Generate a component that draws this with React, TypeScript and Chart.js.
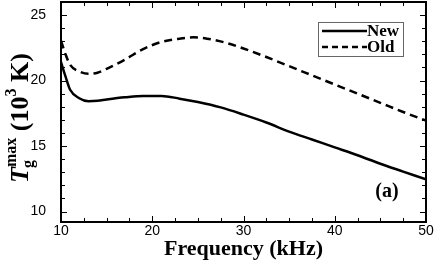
import React, { useEffect, useRef } from "react";
import { Chart, registerables } from "chart.js";

Chart.register(...registerables);

const freqNew = [10, 10.5, 11, 12, 13, 14, 15, 17, 19, 21, 23, 25, 27.5, 30, 32.5, 35, 37.5, 40, 42.5, 45, 47.5, 50];
const tgNew = [21.4, 20.3, 19.3, 18.65, 18.42, 18.45, 18.55, 18.72, 18.83, 18.83, 18.62, 18.36, 17.95, 17.4, 16.8, 16.1, 15.5, 14.9, 14.3, 13.65, 13.05, 12.45];

const freqOld = [10, 10.5, 11, 12, 13, 14, 15, 17, 19, 21, 23, 24.5, 26, 28, 30, 32.5, 35, 37.5, 40, 42.5, 45, 47.5, 50];
const tgOld = [23.05, 22.0, 21.2, 20.7, 20.52, 20.6, 20.9, 21.6, 22.4, 22.95, 23.2, 23.3, 23.2, 22.9, 22.45, 21.8, 21.1, 20.4, 19.7, 19.0, 18.3, 17.6, 16.95];

const seriesNames = ["New", "Old"];
const xTicks = [10, 20, 30, 40, 50];
const yTicks = [10, 15, 20, 25];
const xTitle = "Frequency (kHz)";
const panelLabel = "(a)";

const SERIF = '"Liberation Serif", "Times New Roman", serif';
const SANS = '"Liberation Sans", Arial, sans-serif';

const framePlugin = {
  id: "frame",
  afterDraw(chart: any) {
    const { ctx, chartArea: a, scales } = chart;
    const xs = scales.x;
    const ys = scales.y;
    ctx.save();
    ctx.strokeStyle = "#000";
    ctx.lineWidth = 1;
    ctx.beginPath();
    for (let v = 10; v <= 50.001; v += 2.5) {
      const px = Math.round(xs.getPixelForValue(v)) + 0.5;
      const major = Math.abs(v / 10 - Math.round(v / 10)) < 1e-6;
      const len = major ? 6 : 4;
      ctx.moveTo(px, a.bottom);
      ctx.lineTo(px, a.bottom - len);
      ctx.moveTo(px, a.top);
      ctx.lineTo(px, a.top + len);
    }
    for (let v = 10; v <= 26; v += 1) {
      const py = Math.round(ys.getPixelForValue(v)) + 0.5;
      const major = v % 5 === 0;
      const len = major ? 6 : 4;
      ctx.moveTo(a.left, py);
      ctx.lineTo(a.left + len, py);
      ctx.moveTo(a.right, py);
      ctx.lineTo(a.right - len, py);
    }
    ctx.stroke();
    ctx.lineWidth = 2;
    ctx.strokeRect(a.left, a.top, a.right - a.left, a.bottom - a.top);

    // legend
    const lx = 318.5, ly = 22.5, lw = 85, lh = 34;
    ctx.fillStyle = "#fff";
    ctx.fillRect(lx, ly, lw, lh);
    ctx.lineWidth = 1;
    ctx.strokeStyle = "#666";
    ctx.strokeRect(lx, ly, lw, lh);
    ctx.strokeStyle = "#000";
    ctx.lineWidth = 2.5;
    const rows = [31, 47];
    rows.forEach((ry, i) => {
      ctx.setLineDash(i === 0 ? [] : [6, 4]);
      ctx.beginPath();
      ctx.moveTo(322, ry);
      ctx.lineTo(367, ry);
      ctx.stroke();
    });
    ctx.setLineDash([]);
    ctx.fillStyle = "#000";
    ctx.font = "bold 17px " + SERIF;
    ctx.textBaseline = "middle";
    ctx.textAlign = "left";
    rows.forEach((ry, i) => ctx.fillText(seriesNames[i], 367, ry + 1));

    ctx.font = "bold 20px " + SERIF;
    ctx.textAlign = "center";
    ctx.fillText(panelLabel, 387, 192);

    // y title
    ctx.save();
    ctx.translate(28, 118);
    ctx.rotate(-Math.PI / 2);
    const big = "bold 26px " + SERIF;
    const bigI = "italic bold 26px " + SERIF;
    const small = "bold 16px " + SERIF;
    ctx.textBaseline = "alphabetic";
    ctx.textAlign = "left";
    const meas = (f: string, t: string) => {
      ctx.font = f;
      return ctx.measureText(t).width;
    };
    const wT = meas(bigI, "T");
    const wStack = Math.max(meas(small, "g"), meas(small, "max"));
    const w1 = meas(big, " (10");
    const w3 = meas(small, "3");
    const w2 = meas(big, " K)");
    const total = wT + wStack + w1 + w3 + w2;
    let x = -total / 2;
    ctx.font = bigI;
    ctx.fillText("T", x, 0);
    x += wT;
    ctx.font = small;
    ctx.fillText("g", x - 1, 5);
    ctx.fillText("max", x, -12);
    x += wStack;
    ctx.font = big;
    ctx.fillText(" (10", x, 0);
    x += w1;
    ctx.font = small;
    ctx.fillText("3", x, -12);
    x += w3;
    ctx.font = big;
    ctx.fillText(" K)", x, 0);
    ctx.restore();

    ctx.restore();
  },
};

export default function App() {
  const ref = useRef<HTMLCanvasElement>(null);
  useEffect(() => {
    document.body.style.margin = "0";
    const canvas = ref.current!;
    const chart = new Chart(canvas, {
      type: "line",
      data: {
        datasets: [
          {
            label: seriesNames[0],
            data: freqNew.map((f, i) => ({ x: f, y: tgNew[i] })),
            borderColor: "#000",
            borderWidth: 2.5,
            pointRadius: 0,
            cubicInterpolationMode: "monotone",
          },
          {
            label: seriesNames[1],
            data: freqOld.map((f, i) => ({ x: f, y: tgOld[i] })),
            borderColor: "#000",
            borderWidth: 2.5,
            borderDash: [8, 5],
            pointRadius: 0,
            cubicInterpolationMode: "monotone",
          },
        ],
      },
      options: {
        animation: false,
        responsive: false,
        maintainAspectRatio: false,
        layout: { padding: { left: 0, right: 10, top: 2, bottom: 0 } },
        plugins: { legend: { display: false }, tooltip: { enabled: false } },
        scales: {
          x: {
            type: "linear",
            min: 10,
            max: 50,
            grid: { display: false },
            border: { display: false },
            afterBuildTicks: (s: any) => {
              s.ticks = xTicks.map((v) => ({ value: v }));
            },
            ticks: {
              font: { family: SANS, size: 14 },
              color: "#000",
              padding: -7,
              maxRotation: 0,
              autoSkip: false,
            },
            title: {
              display: true,
              text: xTitle,
              color: "#000",
              font: { family: SERIF, size: 22, weight: "bold" },
              padding: { top: 0, bottom: 4 },
            },
            afterFit: (s: any) => {
              s.height = 45;
              s.paddingLeft = 0;
              s.paddingRight = 0;
            },
          },
          y: {
            type: "linear",
            min: 9.2,
            max: 26,
            grid: { display: false },
            border: { display: false },
            afterBuildTicks: (s: any) => {
              s.ticks = yTicks.map((v) => ({ value: v }));
            },
            ticks: {
              font: { family: SANS, size: 14 },
              color: "#000",
              padding: 7,
            },
            afterFit: (s: any) => {
              s.width = 61;
              s.paddingTop = 0;
              s.paddingBottom = 0;
            },
          },
        },
      },
      plugins: [framePlugin],
    } as any);
    return () => chart.destroy();
  }, []);
  return (
    <div style={{ width: 436, height: 267, position: "relative", background: "#fff" }}>
      <canvas ref={ref} width={436} height={267} style={{ display: "block" }} />
    </div>
  );
}
